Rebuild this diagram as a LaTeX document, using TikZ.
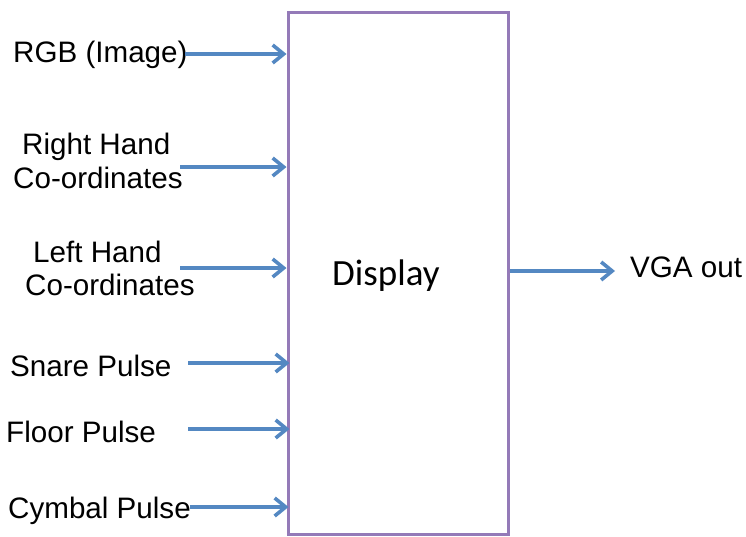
\documentclass[tikz,border=0pt]{standalone}
\usepackage{fontspec}
\setmainfont{Liberation Sans}
\newfontfamily\dispfont{Carlito}
\usetikzlibrary{arrows.meta}
\definecolor{arrblue}{RGB}{84,136,194}
\definecolor{boxpurple}{RGB}{148,122,184}
\begin{document}
\begin{tikzpicture}[x=1pt,y=-1pt,
  lbl/.style={anchor=base west,inner sep=0pt,font=\fontsize{29.6}{34}\selectfont},
  arr/.style={draw=arrblue,line width=3.6pt,-{Straight Barb[length=11pt,width=18pt]}},
  dispbox/.style={draw=boxpurple,line width=3pt,minimum width=220pt,minimum height=522pt,inner sep=0pt}]
\useasboundingbox (0,0) rectangle (746,536);
\node[dispbox] (box) at (398,273) {};
\node[anchor=base west,inner sep=0pt,font=\dispfont\fontsize{37}{42}\selectfont] (disp) at (332,285) {Display};
% labels
\node[lbl] (rgb) at (13,62) {RGB (Image)};
\node[lbl] (rh1) at (22,154) {Right Hand};
\node[lbl] (rh2) at (13,188) {Co-ordinates};
\node[lbl] (lh1) at (33,262) {Left Hand};
\node[lbl] (lh2) at (25,295) {Co-ordinates};
\node[lbl] (snare) at (10,376) {Snare Pulse};
\node[lbl] (floor) at (6,442) {Floor Pulse};
\node[lbl] (cym) at (8,518) {Cymbal Pulse};
\node[lbl] (vga) at (630,277) {VGA out};
% arrow tails
\coordinate (a1) at (185,54);
\coordinate (a2) at (180,167);
\coordinate (a3) at (180,268);
\coordinate (a4) at (185,363);
\coordinate (a5) at (185,429);
\coordinate (a6) at (188,507);
\coordinate (vgaend) at (615,271);
\draw[arr] (a1) -- (a1 -| box.west);
\draw[arr] (a2) -- (a2 -| box.west);
\draw[arr] (a3) -- (a3 -| box.west);
\draw[arr] ([xshift=3pt]a4) -- ([xshift=3pt]a4 -| box.west);
\draw[arr] ([xshift=3pt]a5) -- ([xshift=3pt]a5 -| box.west);
\draw[arr] ([xshift=2pt]a6) -- ([xshift=2pt]a6 -| box.west);
\draw[arr] (vgaend -| box.east) -- (vgaend);
\end{tikzpicture}
\end{document}
